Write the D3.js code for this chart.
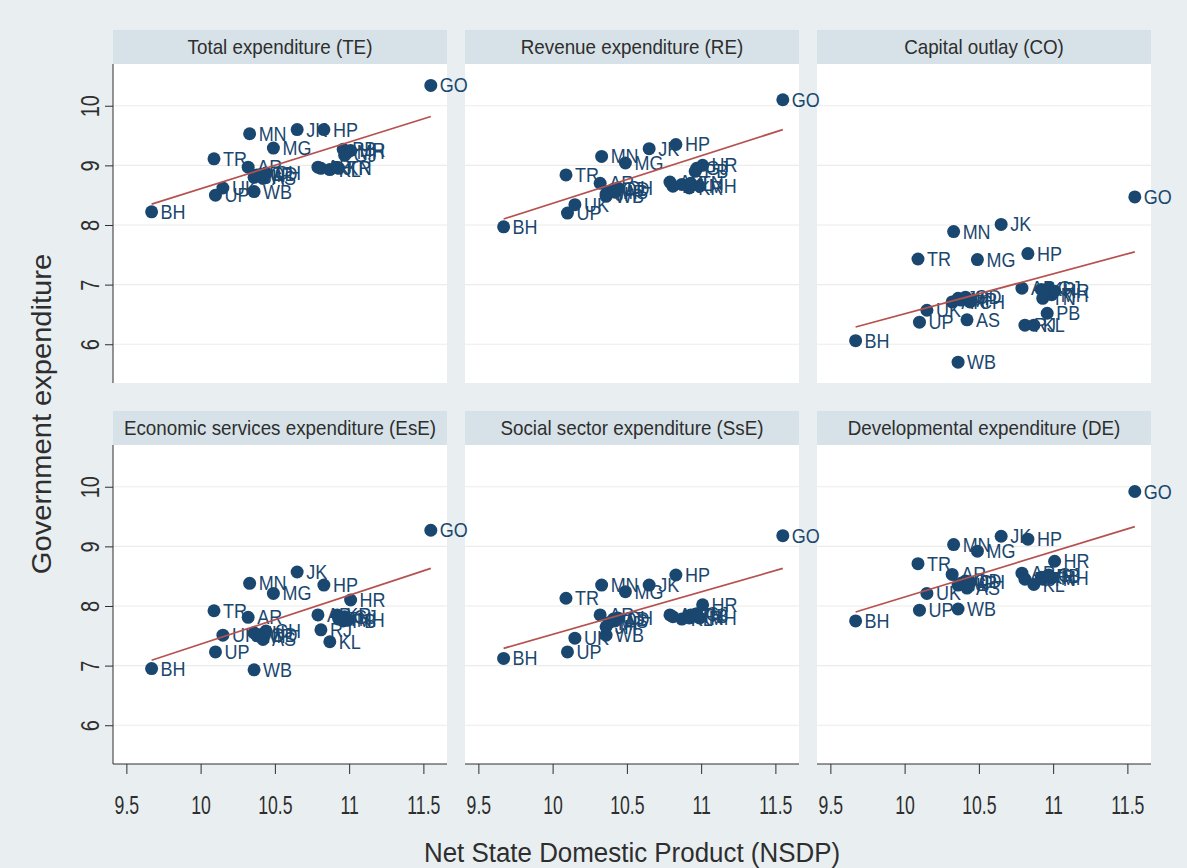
<!DOCTYPE html>
<html>
<head>
<meta charset="utf-8">
<script src="https://cdn.jsdelivr.net/npm/d3@7"></script>
<style>
  html, body { margin: 0; padding: 0; background: #e9eef1; }
  svg { display: block; font-family: "Liberation Sans", Arial, sans-serif; }
</style>
</head>
<body>
<svg id="chart" width="1187" height="868"></svg>
<script>
// Six-panel scatter: state government expenditure vs NSDP (logs), with linear fits.

const states = ["BH", "UP", "TR", "UK", "MN", "AR", "WB", "JH", "MP", "OD", "AS", "CH", "MG",
  "JK", "HP", "AP", "RJ", "KL", "KR", "TN", "PB", "GJ", "MH", "HR", "GO"];
const nsdp = [9.67, 10.10, 10.09, 10.15, 10.33, 10.32, 10.36, 10.36, 10.38, 10.41, 10.42, 10.44, 10.49,
  10.65, 10.83, 10.79, 10.81, 10.87, 10.92, 10.93, 10.96, 10.97, 10.99, 11.01, 11.55];

const te = [8.22, 8.50, 9.11, 8.62, 9.53, 8.97, 8.56, 8.80, 8.84, 8.85, 8.78, 8.87, 9.29,
  9.60, 9.60, 8.97, 8.95, 8.93, 8.96, 8.95, 9.27, 9.17, 9.22, 9.25, 10.34];
const re = [7.97, 8.20, 8.84, 8.34, 9.15, 8.70, 8.48, 8.52, 8.56, 8.60, 8.55, 8.62, 9.04,
  9.28, 9.35, 8.72, 8.65, 8.68, 8.62, 8.70, 8.90, 8.95, 8.65, 9.00, 10.10];
const co = [6.06, 6.37, 7.43, 6.57, 7.89, 6.71, 5.70, 6.77, 6.74, 6.79, 6.41, 6.71, 7.42,
  8.01, 7.52, 6.94, 6.32, 6.32, 6.92, 6.77, 6.52, 6.94, 6.83, 6.89, 8.47];
const ese = [6.95, 7.23, 7.92, 7.51, 8.38, 7.81, 6.93, 7.55, 7.50, 7.52, 7.44, 7.58, 8.21,
  8.57, 8.35, 7.85, 7.60, 7.40, 7.85, 7.78, 7.75, 7.82, 7.76, 8.10, 9.27];
const sse = [7.12, 7.23, 8.13, 7.46, 8.35, 7.85, 7.51, 7.65, 7.72, 7.78, 7.75, 7.80, 8.24,
  8.35, 8.52, 7.85, 7.82, 7.78, 7.80, 7.85, 7.83, 7.87, 7.80, 8.02, 9.18];
const de = [7.75, 7.93, 8.71, 8.21, 9.03, 8.53, 7.95, 8.35, 8.38, 8.42, 8.30, 8.40, 8.92,
  9.17, 9.12, 8.55, 8.45, 8.36, 8.48, 8.45, 8.50, 8.52, 8.47, 8.75, 9.92];

const panelTitles = ["Total expenditure (TE)", "Revenue expenditure (RE)", "Capital outlay (CO)",
  "Economic services expenditure (EsE)", "Social sector expenditure (SsE)", "Developmental expenditure (DE)"];
const panelValues = [te, re, co, ese, sse, de];

// fitted line read at its two ends (x = 9.67 and x = 11.55)
const fitX = [9.67, 11.55];
const fitY = [[8.35, 9.82], [8.10, 9.60], [6.29, 7.55], [7.09, 8.63], [7.29, 8.63], [7.90, 9.33]];

const xTicks = [9.5, 10, 10.5, 11, 11.5];
const yTicks = [6, 7, 8, 9, 10];

const COL_X = [113, 465, 817];
const ROW_Y = [64, 445];
const PANEL_W = 334;
const PANEL_H = 319;
const STRIP_H = 34;

const NAVY = "#1a476f";
const FIT = "#b5524f";
const INK = "#2e2e2e";

const svg = d3.select("#chart");

const x = d3.scaleLinear().domain([9.41, 11.659]).range([0, PANEL_W]);
const y = d3.scaleLinear().domain([5.35, 10.70]).range([PANEL_H, 0]);

// Two passes: frames first, then marks, so that point labels near a panel's
// right edge can spill over the gap into the next panel (as in the original).
const frameLayer = svg.append("g");
const markLayer = svg.append("g");

function panelOrigin(i) {
  const col = i % 3;
  const row = Math.floor(i / 3);
  return { col, row, tx: COL_X[col], ty: ROW_Y[row] };
}

panelValues.forEach((_vals, i) => {
  const { col, row, tx, ty } = panelOrigin(i);
  const g = frameLayer.append("g").attr("transform", `translate(${tx},${ty})`);

  // strip header
  g.append("rect")
    .attr("x", 0).attr("y", -STRIP_H)
    .attr("width", PANEL_W).attr("height", STRIP_H)
    .attr("fill", "#d7e2e8");
  g.append("text")
    .attr("transform", `translate(${PANEL_W / 2},${-STRIP_H / 2 + 7}) scale(0.94,1)`)
    .attr("text-anchor", "middle")
    .attr("font-size", 20)
    .attr("fill", INK)
    .text(panelTitles[i]);

  // plot region + grid
  g.append("rect").attr("width", PANEL_W).attr("height", PANEL_H).attr("fill", "#fff");
  g.append("g")
    .selectAll("line")
    .data(yTicks)
    .join("line")
    .attr("x1", 0).attr("x2", PANEL_W)
    .attr("y1", (d) => y(d)).attr("y2", (d) => y(d))
    .attr("stroke", "#ececea").attr("stroke-width", 1.2);

  // axes: y on the left column, x on the bottom row
  if (col === 0) {
    const ya = g.append("g").call(d3.axisLeft(y).tickValues(yTicks).tickSize(8).tickFormat(d3.format("d")));
    ya.select(".domain").attr("stroke", INK).attr("d", `M0,0V${PANEL_H}`);
    ya.selectAll(".tick line").attr("stroke", INK);
    ya.selectAll(".tick text")
      .attr("x", null).attr("dy", null)
      .attr("transform", "translate(-14,0) rotate(-90) scale(0.8,1)")
      .attr("text-anchor", "middle")
      .attr("font-size", 25)
      .attr("fill", INK)
      .attr("font-family", "Liberation Sans, Arial, sans-serif");
  }
  if (row === 1) {
    const xa = g.append("g")
      .attr("transform", `translate(0,${PANEL_H})`)
      .call(d3.axisBottom(x).tickValues(xTicks).tickSize(10).tickFormat((d) => String(d)));
    xa.select(".domain").attr("stroke", INK).attr("d", `M0,0H${PANEL_W}`);
    xa.selectAll(".tick line").attr("stroke", INK);
    xa.selectAll(".tick text")
      .attr("y", null).attr("dy", null)
      .attr("transform", "translate(0,50) scale(0.68,1)")
      .attr("text-anchor", "middle")
      .attr("font-size", 26)
      .attr("fill", INK)
      .attr("font-family", "Liberation Sans, Arial, sans-serif");
  }
});

panelValues.forEach((vals, i) => {
  const { tx, ty } = panelOrigin(i);
  const g = markLayer.append("g").attr("transform", `translate(${tx},${ty})`);

  // markers + labels
  const pts = g.append("g")
    .selectAll("g")
    .data(states.map((s, k) => ({ s, x: nsdp[k], y: vals[k] })))
    .join("g")
    .attr("transform", (d) => `translate(${x(d.x)},${y(d.y)})`);
  pts.append("circle").attr("r", 6.5).attr("fill", NAVY);
  pts.append("text")
    .attr("transform", "translate(9,7) scale(0.9,1)")
    .attr("font-size", 20)
    .attr("fill", NAVY)
    .text((d) => d.s);

  // linear fit
  g.append("line")
    .attr("x1", x(fitX[0])).attr("y1", y(fitY[i][0]))
    .attr("x2", x(fitX[1])).attr("y2", y(fitY[i][1]))
    .attr("stroke", FIT).attr("stroke-width", 1.7);
});

// shared axis titles
svg.append("text")
  .attr("transform", "translate(51,414) rotate(-90) scale(1.04,1)")
  .attr("text-anchor", "middle")
  .attr("font-size", 28)
  .attr("fill", INK)
  .text("Government expenditure");
svg.append("text")
  .attr("transform", "translate(632,862) scale(0.96,1)")
  .attr("text-anchor", "middle")
  .attr("font-size", 27)
  .attr("fill", INK)
  .text("Net State Domestic Product (NSDP)");
</script>
</body>
</html>
